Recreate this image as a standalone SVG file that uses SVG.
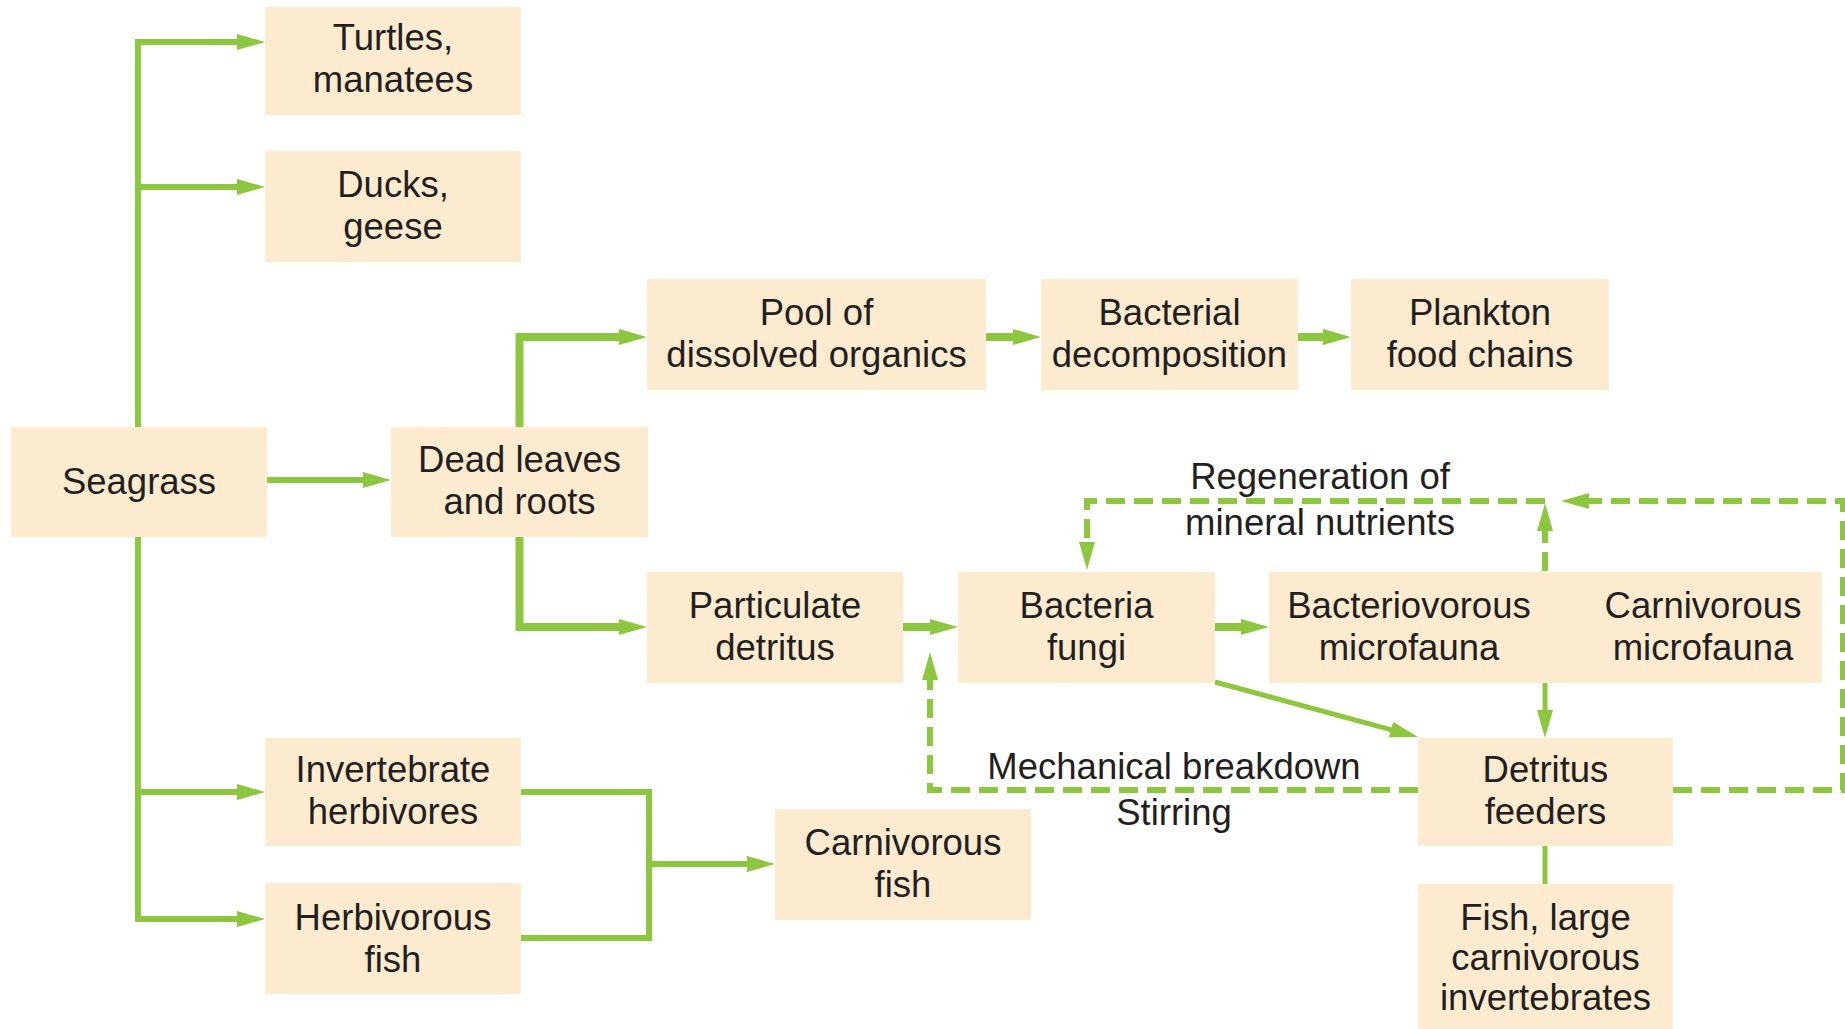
<svg xmlns="http://www.w3.org/2000/svg" width="1845" height="1029" viewBox="0 0 1845 1029">
<style>
.box{fill:#fdebd0}
.t{font-family:"Liberation Sans",Arial,sans-serif;font-size:36.5px;fill:#231f20;text-anchor:middle}
.c{fill:none;stroke:#8dc63f;stroke-linejoin:miter;stroke-linecap:butt}
.w6{stroke-width:6}
.w8{stroke-width:8}
.w5{stroke-width:5}
.d{stroke-width:6;stroke-dasharray:19 9}
.a{marker-end:url(#ah)}
</style>
<defs>
<marker id="ah" markerUnits="userSpaceOnUse" markerWidth="28" markerHeight="16" refX="14" refY="8" orient="auto">
<path d="M0,0 L28,8 L0,16 z" fill="#8dc63f"/>
</marker>
</defs>
<rect width="1845" height="1029" fill="#ffffff"/>
<g id="connectors">
<path class="c w6 a" d="M138,480 V42 H251"/>
<path class="c w6 a" d="M138,187 H251"/>
<path class="c w6 a" d="M138,480 V919 H251"/>
<path class="c w6 a" d="M138,792 H251"/>
<path class="c w6 a" d="M267,480 H377"/>
<path class="c w8 a" d="M519.5,427 V337 H633"/>
<path class="c w8 a" d="M519.5,537 V627 H633"/>
<path class="c w8 a" d="M986,337 H1027"/>
<path class="c w8 a" d="M1298,337 H1337"/>
<path class="c w8 a" d="M903,627 H944"/>
<path class="c w8 a" d="M1215,627 H1255"/>
<path class="c w5 a" d="M1215,682 L1404.5,733.3"/>
<path class="c w5 a" d="M1545,683 V724"/>
<path class="c w5" d="M1545,846 V884"/>
<path class="c w6" d="M521,792 H649 V938 H521"/>
<path class="c w6 a" d="M649,864 H761"/>
<path class="c d a" d="M1418,790 H930 V666"/>
<path class="c d a" d="M1673,790 H1843 V501 H1575"/>
<path class="c d a" d="M1545,571 V517"/>
<path class="c d a" d="M1545,501 H1087 V556"/>
</g>
<g id="seagrass"><rect class="box" x="11" y="427" width="256" height="110"/><text class="t" x="139" y="494">Seagrass</text></g>
<g id="turtles"><rect class="box" x="265" y="7" width="256" height="108"/><text class="t" x="393" y="50">Turtles,</text><text class="t" x="393" y="92">manatees</text></g>
<g id="ducks"><rect class="box" x="265" y="151" width="256" height="111"/><text class="t" x="393" y="197">Ducks,</text><text class="t" x="393" y="239">geese</text></g>
<g id="dead-leaves"><rect class="box" x="391" y="427" width="257" height="110"/><text class="t" x="519.5" y="472">Dead leaves</text><text class="t" x="519.5" y="514">and roots</text></g>
<g id="pool"><rect class="box" x="647" y="279" width="339" height="111"/><text class="t" x="816.5" y="324.5">Pool of</text><text class="t" x="816.5" y="366.5">dissolved organics</text></g>
<g id="bacterial-decomposition"><rect class="box" x="1041" y="279" width="257" height="111"/><text class="t" x="1169.5" y="324.5">Bacterial</text><text class="t" x="1169.5" y="366.5">decomposition</text></g>
<g id="plankton"><rect class="box" x="1351" y="279" width="258" height="111"/><text class="t" x="1480" y="324.5">Plankton</text><text class="t" x="1480" y="366.5">food chains</text></g>
<g id="particulate"><rect class="box" x="647" y="572" width="256" height="111"/><text class="t" x="775" y="617.5">Particulate</text><text class="t" x="775" y="659.5">detritus</text></g>
<g id="bacteria-fungi"><rect class="box" x="958" y="572" width="257" height="111"/><text class="t" x="1086.5" y="617.5">Bacteria</text><text class="t" x="1086.5" y="659.5">fungi</text></g>
<g id="microfauna"><rect class="box" x="1269" y="572" width="553" height="111"/><text class="t" x="1409" y="617.5">Bacteriovorous</text><text class="t" x="1409" y="659.5">microfauna</text><text class="t" x="1703" y="617.5">Carnivorous</text><text class="t" x="1703" y="659.5">microfauna</text></g>
<g id="detritus-feeders"><rect class="box" x="1418" y="738" width="255" height="108"/><text class="t" x="1545.5" y="782">Detritus</text><text class="t" x="1545.5" y="824">feeders</text></g>
<g id="fish-large"><rect class="box" x="1418" y="884" width="255" height="145"/><text class="t" x="1545.5" y="930">Fish, large</text><text class="t" x="1545.5" y="970">carnivorous</text><text class="t" x="1545.5" y="1010">invertebrates</text></g>
<g id="invertebrate-herbivores"><rect class="box" x="265" y="738" width="256" height="108"/><text class="t" x="393" y="782">Invertebrate</text><text class="t" x="393" y="824">herbivores</text></g>
<g id="herbivorous-fish"><rect class="box" x="265" y="883" width="256" height="111"/><text class="t" x="393" y="929.5">Herbivorous</text><text class="t" x="393" y="971.5">fish</text></g>
<g id="carnivorous-fish"><rect class="box" x="775" y="809" width="256" height="111"/><text class="t" x="903" y="854.5">Carnivorous</text><text class="t" x="903" y="896.5">fish</text></g>
<g id="labels">
<text class="t" x="1320" y="489">Regeneration of</text>
<text class="t" x="1320" y="535">mineral nutrients</text>
<text class="t" x="1174" y="779">Mechanical breakdown</text>
<text class="t" x="1174" y="825">Stirring</text>
</g>
</svg>
